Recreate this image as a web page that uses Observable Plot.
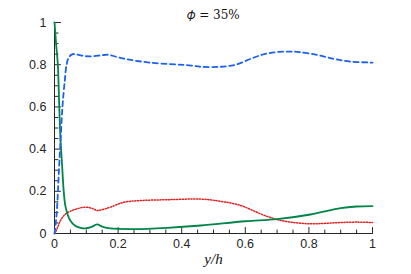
<!DOCTYPE html>
<html>
<head>
<meta charset="utf-8">
<script src="https://cdn.jsdelivr.net/npm/d3@7"></script>
<script src="https://cdn.jsdelivr.net/npm/@observablehq/plot@0.6"></script>
<style>
  html, body { margin: 0; padding: 0; background: #fff; }
  #chart svg { display: block; }
</style>
</head>
<body>
<div id="chart"></div>
<script>
// Data
const title = "𝜙 = 35%";
const xLabel = "y/h";

const blueX = [0, 0.004, 0.008, 0.014, 0.019, 0.025, 0.032, 0.038, 0.045, 0.057, 0.07, 0.1, 0.12, 0.15, 0.17, 0.2, 0.23, 0.3, 0.43, 0.46, 0.52, 0.57, 0.62, 0.66, 0.7, 0.74, 0.77, 0.83, 0.88, 0.93, 1];
const blueY = [0, 0.05, 0.12, 0.3, 0.44, 0.6, 0.72, 0.8, 0.835, 0.85, 0.848, 0.84, 0.84, 0.845, 0.847, 0.835, 0.825, 0.81, 0.796, 0.79, 0.79, 0.8, 0.83, 0.85, 0.86, 0.862, 0.86, 0.845, 0.827, 0.815, 0.81];

const greenX = [0, 0.005, 0.0105, 0.015, 0.019, 0.024, 0.029, 0.035, 0.05, 0.065, 0.082, 0.097, 0.115, 0.134, 0.15, 0.176, 0.25, 0.354, 0.46, 0.6, 0.7, 0.805, 0.9, 0.95, 1];
const greenY = [1, 0.9, 0.8, 0.6, 0.44, 0.32, 0.2, 0.125, 0.06, 0.037, 0.027, 0.024, 0.03, 0.043, 0.033, 0.024, 0.021, 0.027, 0.038, 0.058, 0.068, 0.09, 0.12, 0.128, 0.13];

const redX = [0, 0.003, 0.01, 0.019, 0.035, 0.061, 0.097, 0.12, 0.134, 0.155, 0.176, 0.218, 0.27, 0.354, 0.46, 0.52, 0.585, 0.648, 0.7, 0.753, 0.805, 0.85, 0.9, 0.95, 1];
const redY = [0, 0.006, 0.03, 0.062, 0.093, 0.112, 0.125, 0.118, 0.109, 0.115, 0.125, 0.148, 0.156, 0.16, 0.163, 0.153, 0.133, 0.093, 0.066, 0.052, 0.046, 0.048, 0.052, 0.054, 0.052];

const majorTicks = [0, 0.2, 0.4, 0.6, 0.8, 1];
const minorTicks = [0.05, 0.1, 0.15, 0.25, 0.3, 0.35, 0.45, 0.5, 0.55, 0.65, 0.7, 0.75, 0.85, 0.9, 0.95];

const toPts = (xs, ys) => xs.map((x, i) => ({x, y: ys[i]}));
const blue = toPts(blueX, blueY);
const green = toPts(greenX, greenY);
const red = toPts(redX, redY);

const axisColor = "#262626";
const tickFont = "Liberation Sans, Arial, sans-serif";
const fmt = d => String(d);
// straight tick shape for inward ticks
const tickShape = {draw(context, l) { context.moveTo(0, 0); context.lineTo(0, -l); }};
const yTick = (ticks, len) => Plot.vector(ticks, {x: 0, y: d => d, length: len, rotate: 90, anchor: "start", shape: tickShape, stroke: axisColor, strokeWidth: 1});
const xTick = (ticks, len) => Plot.vector(ticks, {x: d => d, y: 0, length: len, rotate: 0, anchor: "start", shape: tickShape, stroke: axisColor, strokeWidth: 1});

const chart = Plot.plot({
  width: 411,
  height: 274,
  marginLeft: 54,
  marginRight: 39,
  marginTop: 22,
  marginBottom: 41,
  style: {fontFamily: tickFont, fontSize: "12.5px", color: axisColor, background: "#fff"},
  x: {domain: [0, 1], label: null},
  y: {domain: [0, 1], label: null},
  marks: [
    // labels
    Plot.axisY({ticks: majorTicks, tickSize: 0, tickPadding: 8, tickFormat: fmt, label: null}),
    Plot.axisX({ticks: majorTicks, tickSize: 0, tickPadding: 6, tickFormat: fmt, label: null}),
    // inward ticks
    yTick(majorTicks, 6),
    yTick(minorTicks, 3.5),
    xTick(majorTicks, 6),
    xTick(minorTicks, 3.5),
    Plot.ruleX([0], {stroke: axisColor}),
    Plot.ruleY([0], {stroke: axisColor}),
    Plot.line(red, {x: "x", y: "y", stroke: "#e02020", strokeWidth: 1.5, strokeDasharray: "1.2,1.6", curve: "catmull-rom"}),
    Plot.line(green, {x: "x", y: "y", stroke: "#00854a", strokeWidth: 1.8, curve: "catmull-rom"}),
    Plot.line(blue, {x: "x", y: "y", stroke: "#1a62ee", strokeWidth: 1.8, strokeDasharray: "5,3.5", curve: "catmull-rom"}),
    Plot.text([title], {frameAnchor: "top", dy: -12, text: d => d, fontFamily: "DejaVu Serif, Liberation Serif, serif", fontSize: 12, fill: "#111"}),
    Plot.text([xLabel], {frameAnchor: "bottom", dy: 30, text: d => d, fontFamily: "Liberation Serif, DejaVu Serif, serif", fontStyle: "italic", fontSize: 15, fill: "#111"})
  ]
});
document.getElementById("chart").appendChild(chart);
</script>
</body>
</html>
